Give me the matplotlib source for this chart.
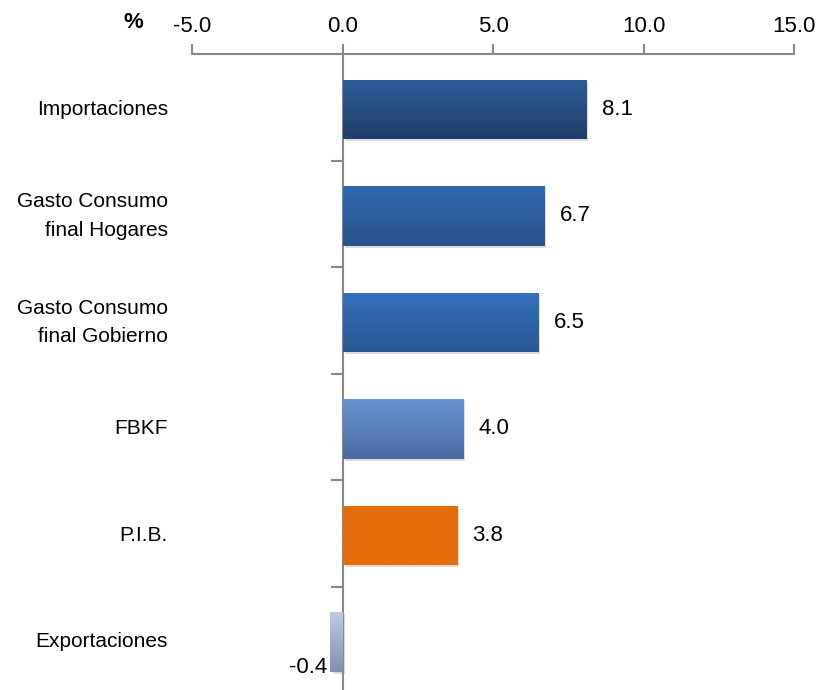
import numpy as np
import matplotlib
matplotlib.use("Agg")
import matplotlib.pyplot as plt
import matplotlib.patheffects as pe
from matplotlib.colors import LinearSegmentedColormap

categories = ["Importaciones", "Gasto Consumo\nfinal Hogares", "Gasto Consumo\nfinal Gobierno",
              "FBKF", "P.I.B.", "Exportaciones"]
values = [8.1, 6.7, 6.5, 4.0, 3.8, -0.4]
# gradient colours per bar (top, bottom)
bar_colors = [("#2d5d98", "#1f3e6a"), ("#3169b0", "#27528c"), ("#3370ba", "#2a5894"),
              ("#6794d2", "#4a6ba0"), ("#e46c0a", "#e46c0a"), ("#bccbe2", "#7f91b0")]
xticks = [-5, 0, 5, 10, 15]

plt.rcParams['font.family'] = ['Liberation Sans', 'DejaVu Sans']

fig = plt.figure(figsize=(8.19, 6.9), dpi=100)
ax = fig.add_axes([192/819, -3/690, 602/819, 639/690])

y = np.arange(len(categories))
bars = ax.barh(y + 0.02, values, height=0.56, color="none", zorder=3)
for b, (c1, c2) in zip(bars, bar_colors):
    cmap = LinearSegmentedColormap.from_list("g", [c1, c2])
    x0, y0, w, h = b.get_x(), b.get_y(), b.get_width(), b.get_height()
    grad = np.linspace(0, 1, 64).reshape(-1, 1)
    im = ax.imshow(grad, cmap=cmap, aspect="auto", zorder=3,
                   extent=[min(x0, x0 + w), max(x0, x0 + w), y0 + h, y0], origin="upper")
    im.set_clip_path(b)
    sh = plt.Rectangle((x0, y0), w, h, facecolor="white", edgecolor="none", zorder=2,
                       path_effects=[pe.SimplePatchShadow(offset=(1.5, -1.5), shadow_rgbFace="#bbbbbb", alpha=0.5)])
    ax.add_patch(sh)

ax.set_xlim(-5, 15)
ax.set_ylim(len(categories) - 0.5, -0.5)

ax.xaxis.tick_top()
ax.set_xticks(xticks)
ax.set_xticklabels([f"{t:.1f}" for t in xticks], fontsize=16)
ax.tick_params(axis="x", colors="#888888", length=7, width=1.5, pad=5, labelcolor="black")
for s in ["right", "bottom"]:
    ax.spines[s].set_visible(False)
ax.spines["top"].set_color("#888888")
ax.spines["top"].set_linewidth(1.5)
ax.spines["left"].set_position(("data", 0))
ax.spines["left"].set_color("#888888")
ax.spines["left"].set_linewidth(1.5)

ax.set_yticks(y)
ax.set_yticklabels([])
ax.tick_params(axis="y", length=0)
ax.set_yticks(np.arange(len(categories) - 1) + 0.5, minor=True)
ax.tick_params(axis="y", which="minor", length=9, width=1.5, color="#888888", direction="out")

for yi, lab in zip(y, categories):
    ax.text(-0.04, yi + 0.02, lab, transform=ax.get_yaxis_transform(), ha="right", va="center",
            fontsize=15, linespacing=1.65)

for yi, v in zip(y, values):
    if v >= 0:
        ax.annotate(f"{v:.1f}", (v, yi + 0.02), xytext=(11, 0), textcoords="offset points",
                    ha="left", va="center", fontsize=16)
    else:
        ax.annotate(f"{v:.1f}", (v, yi), xytext=(-2, -20), textcoords="offset points",
                    ha="right", va="center", fontsize=16)

fig.text(133/819, 1 - 22/690, "%", ha="center", va="center", fontsize=16, fontweight="bold")

fig.savefig("out.png", dpi=100)
